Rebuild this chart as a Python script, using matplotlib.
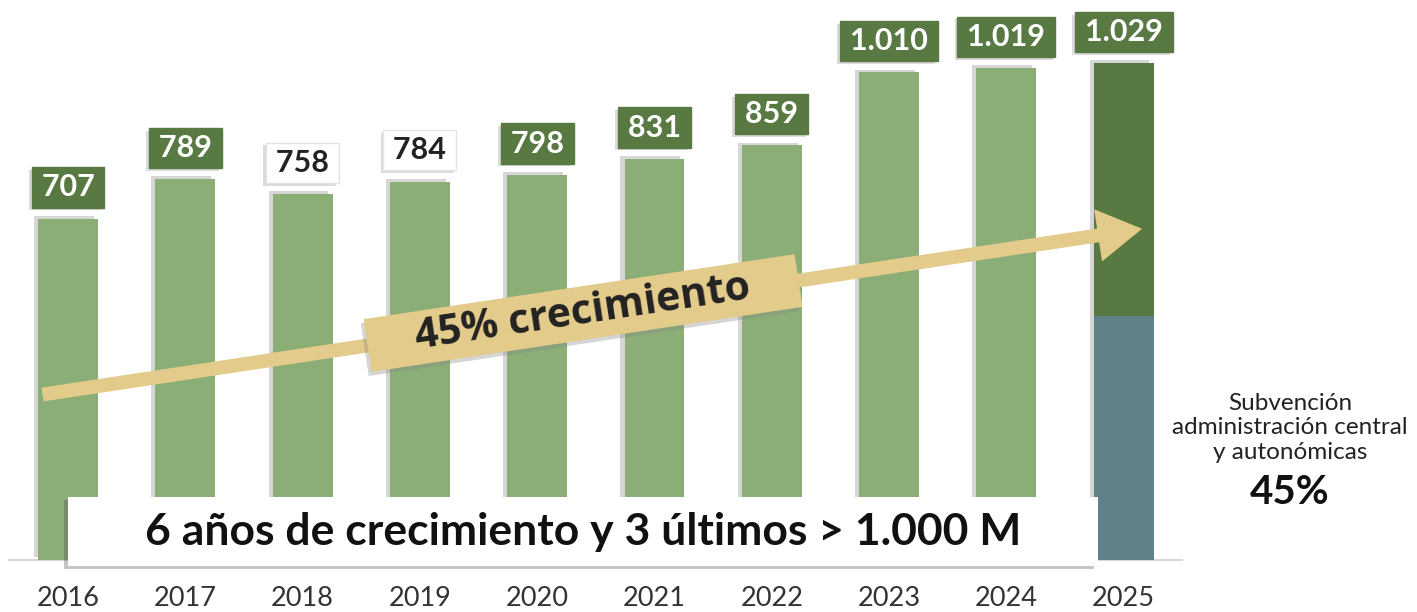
import matplotlib.pyplot as plt
import matplotlib.patheffects as pe
from matplotlib.patches import Rectangle, FancyArrowPatch
from matplotlib.colors import LinearSegmentedColormap
import numpy as np

plt.rcParams['font.family'] = ['Lato', 'DejaVu Sans']

# datos (millones de euros)
years = ['2016', '2017', '2018', '2019', '2020', '2021', '2022', '2023', '2024', '2025']
totals = [707, 789, 758, 784, 798, 831, 859, 1010, 1019, 1029]
subvencion_2025 = 505          # parte de subvención pública en 2025 (45%)
white_labels = ['2018', '2019']  # etiquetas con caja blanca

light_green = '#8bae76'
dark_green = '#587a42'
teal = '#618188'
tan = '#e3cb8b'

W, H = 1417, 612
fig = plt.figure(figsize=(W / 100, H / 100), dpi=100)

# banda superior
band = fig.add_axes([0, 1 - 8 / H, 1, 8 / H])
cmap = LinearSegmentedColormap.from_list('band', ['#832f37', '#7d2d34', '#6b2529', '#5c2023', '#5e2124'])
band.imshow(np.linspace(0, 1, 256)[None, :], aspect='auto', cmap=cmap)
band.axis('off')

ax = fig.add_axes([0, 52 / H, 1, 560 / H])
step = 117.3
ax.set_xlim(-68 / step, (W - 68) / step)
ax.set_ylim(0, 1160)
for s in ax.spines.values():
    s.set_visible(False)
ax.set_yticks([])

x = np.arange(len(years))
shadow = [pe.SimplePatchShadow(offset=(-3, 2), shadow_rgbFace='#7a7a7a', alpha=0.3), pe.Normal()]

heights = [v if y != '2025' else 0 for y, v in zip(years, totals)]
bars = ax.bar(x, heights, width=0.51, color=light_green, zorder=2)
for b in bars:
    b.set_path_effects(shadow)

# 2025 apilado
i25 = years.index('2025')
b1 = ax.bar(i25, subvencion_2025, width=0.51, color=teal, zorder=2)
b2 = ax.bar(i25, totals[i25] - subvencion_2025, bottom=subvencion_2025, width=0.51,
            color=dark_green, zorder=2)
for b in list(b1) + list(b2):
    b.set_path_effects(shadow)

ax.plot([-0.5, 9.5], [0, 0], color='#d8d8d8', lw=1.5, clip_on=False, zorder=1)

# etiquetas de valor
for xi, y, v in zip(x, years, totals):
    label = '\u2009' + f'{v:,}'.replace(',', '.') + '\u2009'
    white = y in white_labels
    t = ax.annotate(label, (xi, v), xytext=(0, 22.5), textcoords='offset points',
                    ha='center', va='center', fontsize=22, fontweight='bold',
                    color='#222222' if white else 'white', zorder=6,
                    bbox=dict(boxstyle='square,pad=0.2', fc='white' if white else dark_green,
                              ec='#e4e4e4' if white else dark_green, lw=1))
    t.get_bbox_patch().set_path_effects(
        [pe.SimplePatchShadow(offset=(-2, -2), shadow_rgbFace='#999999', alpha=0.35), pe.Normal()])

ax.set_xticks(x, years)
ax.tick_params(axis='x', length=0, pad=19, labelsize=19.5, labelcolor='#333333')

# flecha de crecimiento
x0, y0 = -0.24, 342
x1, y1 = 9.18, 687
arrow = FancyArrowPatch((x0, y0), (x1, y1), arrowstyle='simple,head_length=1.6,head_width=1.9,tail_width=0.5',
                        mutation_scale=20, color=tan, lw=0, zorder=4)
ax.add_artist(arrow)

ang = np.degrees(np.arctan2((y1 - y0) * 0.483, (x1 - x0) * step))
xm = (583 - 68) / step
ym = y0 + (y1 - y0) * (xm - x0) / (x1 - x0)
t = ax.text(xm, ym, '    45% crecimiento    ', rotation=ang, rotation_mode='anchor',
            ha='center', va='center', fontsize=29.5, fontweight='bold', color='#222222',
            family=['Open Sans', 'DejaVu Sans'], zorder=5,
            bbox=dict(boxstyle='square,pad=0.15', fc=tan, ec='none'))
t.get_bbox_patch().set_path_effects(
    [pe.SimplePatchShadow(offset=(-2, -3), shadow_rgbFace='#888888', alpha=0.35), pe.Normal()])

# caja inferior
box = Rectangle((68 / W, (H - 566) / H), 1030 / W, 69 / H, transform=fig.transFigure,
                fc='white', ec='none', zorder=7, clip_on=False)
box.set_path_effects([pe.SimplePatchShadow(offset=(-3, -2), shadow_rgbFace='#444444', alpha=0.3),
                      pe.Normal()])
ax.add_patch(box)
fig.text(583 / W, (H - 532) / H, '6 años de crecimiento y 3 últimos > 1.000 M',
         ha='center', va='center', fontsize=32, fontweight='bold', color='#111111', zorder=8)

# texto lateral
fig.text(1290 / W, (H - 428) / H, 'Subvención\nadministración central\ny autonómicas',
         ha='center', va='center', fontsize=17.5, color='#222222', linespacing=1.2)
fig.text(1290 / W, (H - 493) / H, '45%', ha='center', va='center', fontsize=29,
         fontweight='bold', color='#111111')

fig.savefig('out.png', dpi=100)
